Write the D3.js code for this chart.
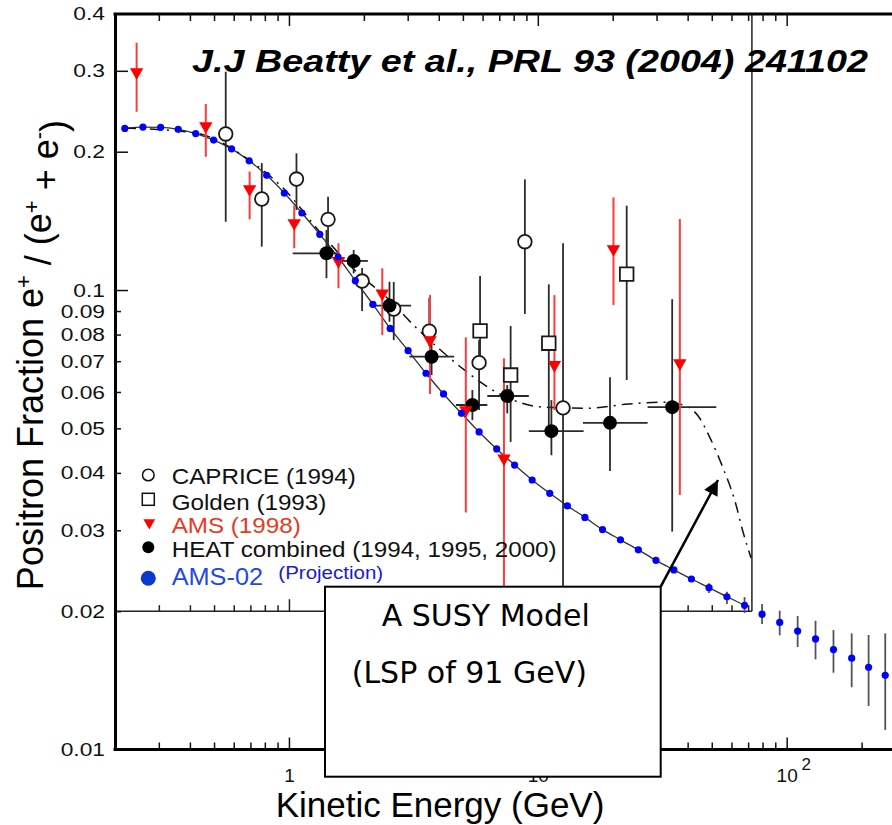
<!DOCTYPE html>
<html><head><meta charset="utf-8">
<script src="https://cdn.jsdelivr.net/npm/d3@7"></script>
<style>html,body{margin:0;padding:0;background:#fff}svg{display:block}</style>
</head><body>
<svg id="chart" width="892" height="825"></svg>
<script>
// ---------------- DATA ----------------
// AMS-02 projection (blue dots) : kinetic energy (GeV) and positron fraction
const blueE = [0.219,0.259,0.305,0.359,0.422,0.498,0.588,0.692,0.814,0.958,1.127,1.330,1.575,1.848,2.174,2.552,3.012,3.554,4.180,4.934,5.808,6.835,8.068,9.489,11.17,13.15,15.46,18.20,21.48,25.35,29.84,35.22,41.42,48.75,57.54,67.73,79.65,93.76,110.7,130.6,154.2,182.5,213.4,248.9];
const blueF = [0.2248,0.2263,0.2260,0.2237,0.2190,0.2120,0.2029,0.1911,0.1777,0.1626,0.1471,0.1322,0.1180,0.1048,0.0931,0.0825,0.0738,0.0659,0.0594,0.0539,0.0491,0.0451,0.0416,0.0386,0.0361,0.0339,0.0320,0.0301,0.0286,0.0272,0.0258,0.0246,0.0235,0.0225,0.0215,0.0206,0.0197,0.0189,0.0181,0.0174,0.0165,0.0158,0.0151,0.0145];
const blueHi = [null,null,null,null,null,null,null,null,null,null,null,null,null,null,null,null,null,null,null,null,null,null,null,null,null,null,null,null,null,null,null,null,null,0.0230,0.02205,0.02147,0.02073,0.02005,0.01952,0.01906,0.0182,0.0179,0.01775,0.0179];
const blueLo = [null,null,null,null,null,null,null,null,null,null,null,null,null,null,null,null,null,null,null,null,null,null,null,null,null,null,null,null,null,null,null,null,null,0.0219,0.02073,0.01982,0.01875,0.01772,0.01671,0.01571,0.01469,0.01366,0.01244,0.01103];

// AMS (1998)
const amsE  = [0.2443,0.4634,0.6950,1.050,1.581,2.371,3.688,5.137,7.311,11.66,20.14,37.22];
const amsF  = [0.2981,0.2275,0.1659,0.1399,0.1157,0.0983,0.0778,0.0548,0.0430,0.0687,0.1228,0.0693];
const amsHi = [0.3453,0.2540,0.1811,0.1527,0.1264,0.1115,0.0975,0.0789,0.0710,0.0975,0.1591,0.1427];
const amsLo = [0.2443,0.1950,0.1425,0.1233,0.1009,0.0798,0.0594,0.0328,0.0199,0.0548,0.0928,0.0358];

// CAPRICE (1994)
const capE  = [0.5572,0.7777,1.072,1.436,1.968,2.637,3.664,5.808,8.872,12.63];
const capF  = [0.2186,0.1578,0.1744,0.1425,0.1046,0.0909,0.0814,0.0695,0.1274,0.0554];
const capHi = [0.2986,0.1889,0.1984,0.1596,0.1117,0.1041,0.0961,0.0778,0.1741,0.1264];
const capLo = [0.1408,0.1243,0.1493,0.1204,0.0900,0.0778,0.0755,0.0548,0.0887,0.0199];

// Golden (1993)
const golE  = [5.861,7.777,11.07,22.76];
const golF  = [0.0815,0.0653,0.0766,0.1083];
const golHi = [0.1073,0.0835,0.1029,0.1526];
const golLo = [0.0670,0.0467,0.0496,0.0637];

// HEAT combined (1994, 1995, 2000)
const heatE    = [1.415,1.820,2.535,3.743,5.459,7.537,11.34,19.50,34.67];
const heatF    = [0.1202,0.1157,0.0925,0.0716,0.0562,0.0588,0.0493,0.0514,0.0556];
const heatHi   = [0.1351,0.1222,0.1042,0.0790,0.0606,0.0621,0.0576,0.0646,0.0955];
const heatLo   = [0.1061,0.1087,0.0853,0.0653,0.0521,0.0539,0.0437,0.0404,0.0298];
const heatEmin = [1.035,1.600,2.109,3.048,4.686,6.268,9.204,15.18,27.62];
const heatEmax = [1.600,2.076,3.096,4.613,6.268,9.204,15.28,27.62,52.15];

// SUSY model curve (LSP of 91 GeV), dash-dot
const susyE = [0.2193,0.4205,0.6918,0.9638,1.330,1.837,2.534,3.192,4.021,5.064,6.379,8.375,10.54,15.92,23.10,31.95,38.37,44.09,49.27,55.10,62.09,66.83,71.94];
const susyF = [0.2252,0.2196,0.1918,0.1651,0.1338,0.1105,0.0951,0.0835,0.0744,0.0670,0.0612,0.0570,0.0556,0.0553,0.0565,0.0570,0.0562,0.0532,0.0476,0.0414,0.0346,0.0297,0.0261];

// axes
const yTickLabels = [0.4,0.3,0.2,0.1,0.09,0.08,0.07,0.06,0.05,0.04,0.03,0.02,0.01];
const yLongTicks  = [0.4,0.3,0.2,0.1];
const yShortTicks = [0.09,0.08,0.07,0.06,0.05,0.04,0.03,0.02];
const xMajorTicks = [1,10,100];
const xMinorTicks = [0.3,0.4,0.5,0.6,0.7,0.8,0.9,2,3,4,5,6,7,8,9,20,30,40,50,60,70,80,90,200];
const innerEmax = 72.5;   // right edge of the original (inset) frame
const innerFmin = 0.02;   // bottom edge of the original (inset) frame

const legendLabels = ["CAPRICE (1994)","Golden (1993)","AMS (1998)","HEAT combined (1994, 1995, 2000)","AMS-02"];

// ---------------- DRAWING ----------------
const svg = d3.select("#chart");
svg.append("rect").attr("width",892).attr("height",825).attr("fill","#fff");

const xs = d3.scaleLog().domain([0.2, 265]).range([115, 892]);
const ys = d3.scaleLog().domain([0.01, 0.4]).range([749.5, 13.4]);
const FONT = "'Liberation Sans', Arial, Helvetica, sans-serif";
const SX = 1.1;

function stretchTexts(sel, sx){
  sel.selectAll("text").each(function(){
    const t = d3.select(this);
    const x = +t.attr("x") || 0, y = +t.attr("y") || 0;
    t.attr("x",0).attr("y",0).attr("transform",`translate(${x},${y}) scale(${sx},1)`);
  });
}

// ---- frame: inner (original) lines
const xInnerR = xs(innerEmax), yInnerB = ys(innerFmin);
svg.append("line").attr("x1",xs(0.2)).attr("x2",xInnerR).attr("y1",yInnerB).attr("y2",yInnerB).attr("stroke","#222").attr("stroke-width",1.5);
svg.append("line").attr("x1",xInnerR).attr("x2",xInnerR).attr("y1",14).attr("y2",yInnerB).attr("stroke","#222").attr("stroke-width",1.5);

// inner bottom ticks
const innerAxMinor = d3.axisTop(xs).tickValues(xMinorTicks.filter(d=>d<innerEmax)).tickSize(6).tickFormat("");
const innerAxMajor = d3.axisTop(xs).tickValues([1,10]).tickSize(12).tickFormat("");
[innerAxMinor, innerAxMajor].forEach(ax=>{
  const g = svg.append("g").attr("transform",`translate(0,${yInnerB})`).call(ax);
  g.select(".domain").remove();
  g.selectAll("line").attr("stroke","#222").attr("stroke-width",1.5);
});

// ---- background model curve (through AMS-02 points inside inset)
const lineGen = d3.line().x((d)=>xs(d[0])).y(d=>ys(d[1])).curve(d3.curveMonotoneX);
const bgPts = blueE.map((e,i)=>[e,blueF[i]]).filter(d=>d[0]<=innerEmax);
svg.append("path").attr("d",lineGen(bgPts)).attr("fill","none").attr("stroke","#333").attr("stroke-width",1.3);

// ---- SUSY curve
const susyPts = susyE.map((e,i)=>[e,susyF[i]]);
svg.append("path").attr("d",lineGen(susyPts)).attr("fill","none").attr("stroke","#111")
  .attr("stroke-width",1.5).attr("stroke-dasharray","11,6,2,6");

// ---- error bars
function vbars(E, lo, hi, color, w){
  svg.append("g").selectAll("line").data(E.map((e,i)=>({e,lo:lo[i],hi:hi[i]})).filter(d=>d.lo!=null))
    .join("line").attr("x1",d=>xs(d.e)).attr("x2",d=>xs(d.e))
    .attr("y1",d=>ys(d.hi)).attr("y2",d=>ys(d.lo)).attr("stroke",color).attr("stroke-width",w);
}
vbars(capE, capLo, capHi, "#2a2a2a", 1.8);
vbars(golE, golLo, golHi, "#2a2a2a", 1.8);
vbars(heatE, heatLo, heatHi, "#2a2a2a", 1.8);
svg.append("g").selectAll("line").data(heatE.map((e,i)=>i)).join("line")
  .attr("x1",i=>xs(heatEmin[i])).attr("x2",i=>xs(heatEmax[i]))
  .attr("y1",i=>ys(heatF[i])).attr("y2",i=>ys(heatF[i])).attr("stroke","#2a2a2a").attr("stroke-width",1.8);
vbars(amsE, amsLo, amsHi, "#ff3b3b", 2);
vbars(blueE, blueLo, blueHi, "#555", 1.8);

// ---- markers
const tri = d3.symbol().type(d3.symbolTriangle).size(78);
const sq  = d3.symbol().type(d3.symbolSquare).size(185);
svg.append("g").selectAll("path").data(golE.map((e,i)=>[e,golF[i]])).join("path")
  .attr("d",sq).attr("transform",d=>`translate(${xs(d[0])},${ys(d[1])})`)
  .attr("fill","#fff").attr("stroke","#1a1a1a").attr("stroke-width",1.8);
svg.append("g").selectAll("circle").data(capE.map((e,i)=>[e,capF[i]])).join("circle")
  .attr("cx",d=>xs(d[0])).attr("cy",d=>ys(d[1])).attr("r",6.8)
  .attr("fill","#fff").attr("stroke","#1a1a1a").attr("stroke-width",1.8);
svg.append("g").selectAll("circle").data(heatE.map((e,i)=>[e,heatF[i]])).join("circle")
  .attr("cx",d=>xs(d[0])).attr("cy",d=>ys(d[1])).attr("r",7).attr("fill","#000");
svg.append("g").selectAll("path").data(amsE.map((e,i)=>[e,amsF[i]])).join("path")
  .attr("d",tri).attr("transform",d=>`translate(${xs(d[0])},${ys(d[1])}) rotate(180)`)
  .attr("fill","#ff0000");
svg.append("g").selectAll("circle").data(blueE.map((e,i)=>[e,blueF[i]])).join("circle")
  .attr("cx",d=>xs(d[0])).attr("cy",d=>ys(d[1])).attr("r",3.6).attr("fill","#0000ff");

// ---- outer axes
// left
const gL1 = svg.append("g").attr("transform","translate(115,0)")
  .call(d3.axisRight(ys).tickValues(yLongTicks).tickSize(13).tickSizeOuter(0).tickFormat(""));
gL1.select(".domain").attr("stroke","#000").attr("stroke-width",3);
gL1.selectAll("line").attr("stroke","#111").attr("stroke-width",1.5);
const gL2 = svg.append("g").attr("transform","translate(115,0)")
  .call(d3.axisRight(ys).tickValues(yShortTicks).tickSize(6).tickFormat(""));
gL2.select(".domain").remove();
gL2.selectAll("line").attr("stroke","#111").attr("stroke-width",1.5);
const gLl = svg.append("g").attr("transform","translate(115,0)")
  .call(d3.axisLeft(ys).tickValues(yTickLabels).tickSize(0).tickPadding(10).tickFormat(d=>String(d)));
gLl.select(".domain").remove();
gLl.selectAll("text").attr("font-family",FONT).attr("font-size",19).attr("fill","#111");
stretchTexts(gLl, 1.2);

// top
const gT = svg.append("g").attr("transform","translate(0,14)");
gT.append("line").attr("x1",113.5).attr("x2",892).attr("stroke","#000").attr("stroke-width",3);
[[xMinorTicks.filter(d=>d<100),7],[xMajorTicks,12]].forEach(([vals,len])=>{
  const g = gT.append("g").call(d3.axisBottom(xs).tickValues(vals).tickSize(len).tickFormat(""));
  g.select(".domain").remove();
  g.selectAll("line").attr("stroke","#111").attr("stroke-width",1.5);
});

// bottom
const gB = svg.append("g").attr("transform","translate(0,749.5)");
gB.append("line").attr("x1",113.5).attr("x2",892).attr("stroke","#000").attr("stroke-width",3);
[[xMinorTicks,7],[xMajorTicks,12]].forEach(([vals,len])=>{
  const g = gB.append("g").call(d3.axisTop(xs).tickValues(vals).tickSize(len).tickFormat(""));
  g.select(".domain").remove();
  g.selectAll("line").attr("stroke","#111").attr("stroke-width",1.5);
});
const gBl = gB.append("g").call(d3.axisBottom(xs).tickValues(xMajorTicks).tickSize(0).tickPadding(19)
  .tickFormat(d=> d===100 ? "10" : String(d)));
gBl.select(".domain").remove();
gBl.selectAll("text").attr("font-family",FONT).attr("font-size",19).attr("fill","#111");
gBl.selectAll(".tick").filter(d=>d===100).append("text")
  .attr("x",19).attr("y",19).attr("dy","0.1em").attr("font-family",FONT).attr("font-size",17)
  .attr("fill","#111").text("2");

// ---- legend
const lg = svg.append("g").attr("font-family",FONT);
const lgX = 148.3, lgTX = 171.7;
const rowsY = [475, 499.3, 522.7, 547.3, 578.3];
const textY = [484, 510, 533.3, 556.7, 585];
lg.append("circle").attr("cx",lgX).attr("cy",rowsY[0]).attr("r",5.8).attr("fill","#fff").attr("stroke","#111").attr("stroke-width",1.5);
lg.append("rect").attr("x",lgX-6).attr("y",rowsY[1]-6).attr("width",12).attr("height",12).attr("fill","#fff").attr("stroke","#111").attr("stroke-width",1.5);
lg.append("path").attr("d",d3.symbol().type(d3.symbolTriangle).size(60)()).attr("transform",`translate(${lgX+1},${rowsY[2]}) rotate(180)`).attr("fill","#ff0000");
lg.append("circle").attr("cx",lgX).attr("cy",rowsY[3]).attr("r",6).attr("fill","#000");
lg.append("circle").attr("cx",lgX).attr("cy",rowsY[4]).attr("r",7.5).attr("fill","#0a38d0");
const lgColors = ["#111","#111","#e8391f","#111","#1f48e6"];
const lgSizes = [22,22,22,22,23];
legendLabels.forEach((t,i)=>{
  lg.append("text").attr("transform",`translate(${lgTX},${textY[i]}) scale(${SX},1)`)
    .attr("font-size",lgSizes[i]).attr("fill",lgColors[i]).text(t);
});
lg.append("text").attr("transform",`translate(278.3,578.5) scale(1.08,1)`)
  .attr("font-size",19).attr("fill","#1a1ad0").text("(Projection)");

// ---- title
svg.append("text").attr("x",192).attr("y",72).attr("font-family",FONT).attr("font-size",31)
  .attr("font-weight","bold").attr("font-style","italic").attr("fill","#000")
  .attr("textLength",676).attr("lengthAdjust","spacingAndGlyphs")
  .text("J.J Beatty et al., PRL 93 (2004) 241102");

// ---- axis titles
svg.append("text").attr("transform","translate(43,355) rotate(-90)").attr("text-anchor","middle")
  .attr("font-family",FONT).attr("font-size",36).attr("fill","#000")
  .call(t=>{
    t.append("tspan").text("Positron Fraction e");
    t.append("tspan").attr("dy","-0.55em").attr("font-size",22).text("+");
    t.append("tspan").attr("dy","0.55em").text(" / (e");
    t.append("tspan").attr("dy","-0.55em").attr("font-size",22).text("+");
    t.append("tspan").attr("dy","0.55em").text(" + e");
    t.append("tspan").attr("dy","-0.55em").attr("font-size",22).text("-");
    t.append("tspan").attr("dy","0.55em").text(")");
  });
svg.append("text").attr("x",440).attr("y",817).attr("text-anchor","middle")
  .attr("font-family",FONT).attr("font-size",35).attr("fill","#000").text("Kinetic Energy (GeV)");

// ---- SUSY annotation box and arrow
const box = {x:325, y:586.7, w:335.7, h:190};
svg.append("rect").attr("x",box.x).attr("y",box.y).attr("width",box.w).attr("height",box.h)
  .attr("fill","#fff").attr("stroke","#000").attr("stroke-width",2);
const BF = "'DejaVu Sans', sans-serif";
svg.append("text").attr("x",381.7).attr("y",625.7).attr("font-family",BF).attr("font-size",30).attr("fill","#000").text("A SUSY Model");
svg.append("text").attr("x",351.7).attr("y",682.7).attr("font-family",BF).attr("font-size",30).attr("fill","#000").text("(LSP of 91 GeV)");

const arrowTipE = 52.97, arrowTipF = 0.0386;
svg.append("defs").append("marker").attr("id","ah").attr("viewBox","0 0 10 10").attr("refX",10).attr("refY",5)
  .attr("markerWidth",6.5).attr("markerHeight",6).attr("markerUnits","strokeWidth").attr("orient","auto")
  .append("path").attr("d","M0,0 L10,5 L0,10 z").attr("fill","#000");
svg.append("line").attr("x1",box.x+box.w).attr("y1",box.y).attr("x2",xs(arrowTipE)).attr("y2",ys(arrowTipF))
  .attr("stroke","#000").attr("stroke-width",2.5).attr("marker-end","url(#ah)");
</script>
</body></html>
